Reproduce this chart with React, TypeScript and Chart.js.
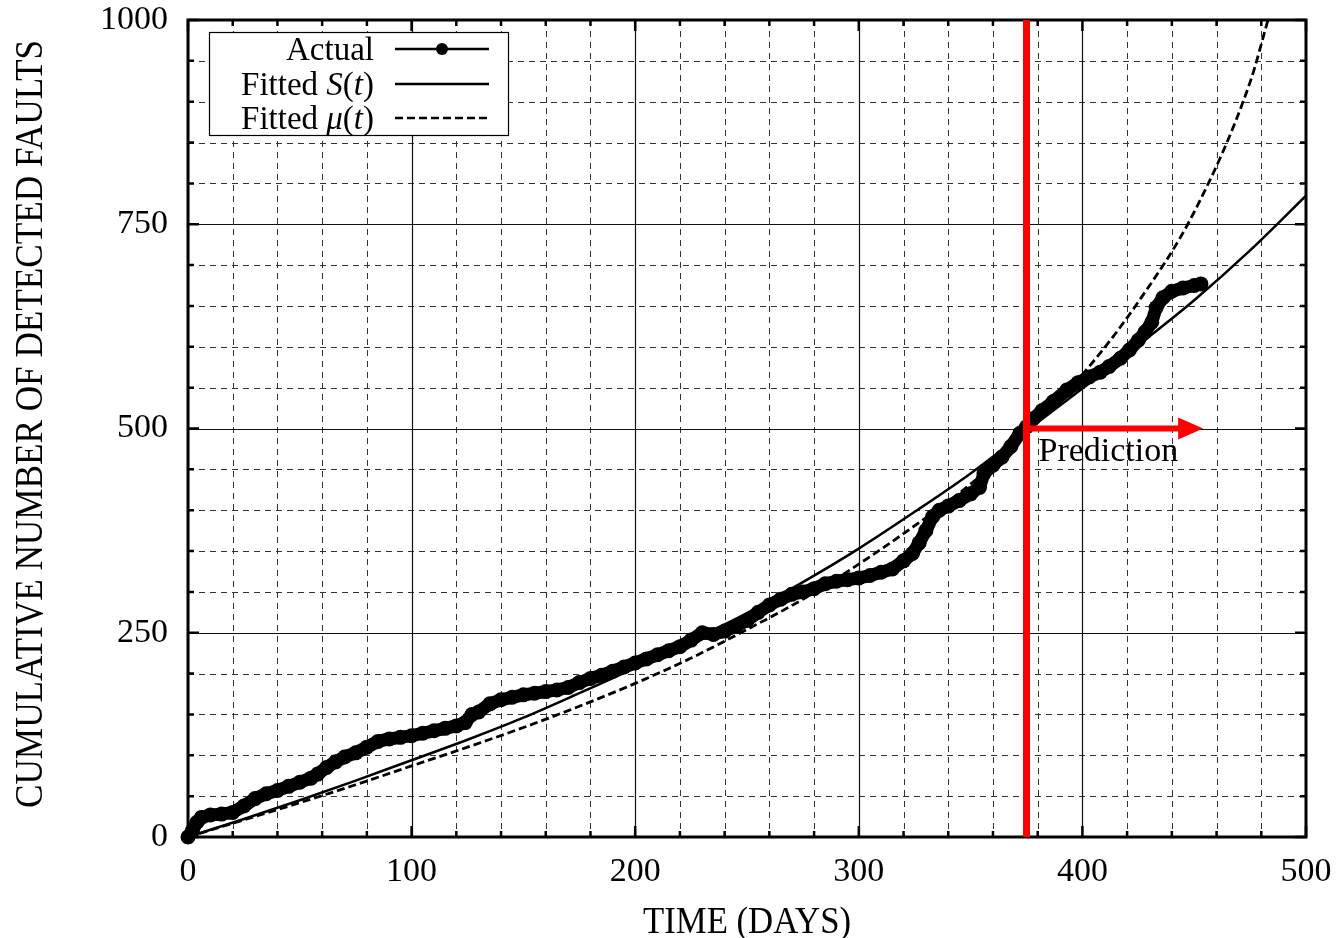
import React, { useEffect, useRef } from "react";
import { Chart, registerables } from "chart.js";

Chart.register(...registerables);

// ---------- data ----------
const actualDays = [
  0, 2, 4, 6, 10, 15, 20, 25, 30, 35, 40, 45, 50, 55, 58, 62, 66, 70, 75, 80, 85, 90, 95, 100,
  105, 110, 115, 120, 124, 127, 130, 135, 140, 145, 150, 155, 160, 165, 170, 175, 180, 185, 190,
  195, 200, 205, 210, 215, 220, 225, 230, 235, 240, 245, 250, 255, 260, 265, 270, 275, 280, 285,
  290, 295, 300, 305, 310, 315, 320, 324, 327, 330, 333, 336, 340, 345, 350, 354, 356, 360, 364,
  368, 372, 375, 378, 382, 387, 393, 398, 403, 408, 412, 417, 421, 425, 428, 431, 433, 436, 440,
  445, 450, 453,
];
const actualFaults = [
  0, 8, 18, 24, 27, 28, 30, 38, 47, 53, 57, 62, 67, 72, 77, 85, 92, 98, 103, 110, 117, 120, 122, 124,
  127, 130, 133, 136, 140, 150, 153, 163, 168, 171, 174, 176, 178, 180, 183, 189, 194, 198, 203,
  208, 213, 218, 223, 228, 233, 241, 250, 248, 252, 258, 265, 275, 284, 291, 297, 300, 304, 310,
  313, 315, 317, 320, 324, 328, 338, 347, 360, 375, 392, 400, 405, 412, 420, 428, 445, 455, 465,
  478, 494, 502, 512, 522, 533, 547, 556, 563, 569, 576, 586, 596, 608, 618, 630, 648, 660, 668,
  672, 675, 677,
];

const fitDays = [0, 25, 50, 75, 100, 125, 150, 175, 200, 225, 250, 275, 300, 325, 350, 375, 400, 425, 450, 475, 500];
const fittedS = [0, 22, 45, 69, 94, 119, 146, 176, 207, 240, 274, 312, 353, 398, 445, 497, 549, 602, 657, 718, 785];

const muDays = [0, 25, 50, 75, 100, 125, 150, 175, 200, 225, 250, 275, 300, 325, 350, 375, 400, 425, 450, 475, 483];
const fittedMu = [0, 21, 42, 64, 87, 110, 134, 160, 188, 219, 254, 291, 334, 381, 432, 495, 566, 655, 765, 924, 1000];

const xTicks = [0, 100, 200, 300, 400, 500];
const yTicks = [0, 250, 500, 750, 1000];
const xMinorStep = 20;
const yMinorStep = 50;

const PREDICTION_START = 375;
const PREDICTION_END = 454;
const PREDICTION_LEVEL = 500;

const X_TITLE = "TIME (DAYS)";
const Y_TITLE = "CUMULATIVE NUMBER OF DETECTED FAULTS";

const SERIF = '"Liberation Serif", "DejaVu Serif", serif';

// ---------- helpers ----------
function drawCondensed(
  ctx: CanvasRenderingContext2D,
  text: string,
  cx: number,
  baseline: number,
  size: number,
  targetWidth: number,
  rotate: boolean
) {
  ctx.save();
  ctx.font = `${size}px ${SERIF}`;
  ctx.fillStyle = "#000";
  const w = ctx.measureText(text).width;
  const sx = targetWidth / w;
  ctx.translate(rotate ? baseline : cx, rotate ? cx : baseline);
  if (rotate) ctx.rotate(-Math.PI / 2);
  ctx.scale(sx, 1);
  ctx.textAlign = "center";
  ctx.textBaseline = "alphabetic";
  ctx.fillText(text, 0, 0);
  ctx.restore();
}

type Part = { t: string; it?: boolean };

function drawParts(ctx: CanvasRenderingContext2D, parts: Part[], right: number, baseline: number, size: number) {
  const fontFor = (p: Part) => `${p.it ? "italic " : ""}${size}px ${SERIF}`;
  let total = 0;
  for (const p of parts) {
    ctx.font = fontFor(p);
    total += ctx.measureText(p.t).width;
  }
  let x = right - total;
  ctx.textAlign = "left";
  ctx.textBaseline = "alphabetic";
  ctx.fillStyle = "#000";
  for (const p of parts) {
    ctx.font = fontFor(p);
    ctx.fillText(p.t, x, baseline);
    x += ctx.measureText(p.t).width;
  }
}

const decorPlugin = {
  id: "decor",
  beforeDatasetsDraw(chart: any) {
    const { ctx, chartArea: a, scales } = chart;
    const x = scales.x;
    const y = scales.y;
    ctx.save();
    ctx.beginPath();
    ctx.rect(a.left, a.top, a.right - a.left, a.bottom - a.top);
    ctx.clip();
    // minor dashed grid
    ctx.setLineDash([6, 5]);
    ctx.strokeStyle = "#333";
    ctx.lineWidth = 1;
    for (let v = x.min + xMinorStep; v < x.max; v += xMinorStep) {
      if (xTicks.includes(v)) continue;
      const p = Math.round(x.getPixelForValue(v)) + 0.5;
      ctx.beginPath();
      ctx.moveTo(p, a.top);
      ctx.lineTo(p, a.bottom);
      ctx.stroke();
    }
    for (let v = y.min + yMinorStep; v < y.max; v += yMinorStep) {
      if (yTicks.includes(v)) continue;
      const p = Math.round(y.getPixelForValue(v)) + 0.5;
      ctx.beginPath();
      ctx.moveTo(a.left, p);
      ctx.lineTo(a.right, p);
      ctx.stroke();
    }
    // major solid grid
    ctx.setLineDash([]);
    ctx.strokeStyle = "#111";
    ctx.lineWidth = 1.2;
    for (const v of xTicks) {
      const p = Math.round(x.getPixelForValue(v)) + 0.5;
      ctx.beginPath();
      ctx.moveTo(p, a.top);
      ctx.lineTo(p, a.bottom);
      ctx.stroke();
    }
    for (const v of yTicks) {
      const p = Math.round(y.getPixelForValue(v)) + 0.5;
      ctx.beginPath();
      ctx.moveTo(a.left, p);
      ctx.lineTo(a.right, p);
      ctx.stroke();
    }
    ctx.restore();
  },
  afterDatasetsDraw(chart: any) {
    const { ctx, chartArea: a, scales } = chart;
    const x = scales.x;
    const y = scales.y;
    ctx.save();
    // inside tick marks
    ctx.strokeStyle = "#000";
    ctx.lineWidth = 2.5;
    for (let v = x.min; v <= x.max; v += xMinorStep) {
      const len = xTicks.includes(v) ? 11 : 6;
      const p = x.getPixelForValue(v);
      ctx.beginPath();
      ctx.moveTo(p, a.bottom);
      ctx.lineTo(p, a.bottom - len);
      ctx.moveTo(p, a.top);
      ctx.lineTo(p, a.top + len);
      ctx.stroke();
    }
    for (let v = y.min; v <= y.max; v += yMinorStep) {
      const len = yTicks.includes(v) ? 11 : 6;
      const p = y.getPixelForValue(v);
      ctx.beginPath();
      ctx.moveTo(a.left, p);
      ctx.lineTo(a.left + len, p);
      ctx.moveTo(a.right, p);
      ctx.lineTo(a.right - len, p);
      ctx.stroke();
    }
    // frame
    ctx.lineWidth = 3;
    ctx.strokeRect(a.left, a.top, a.right - a.left, a.bottom - a.top);

    // red prediction line + arrow
    const px0 = x.getPixelForValue(PREDICTION_START);
    const px1 = x.getPixelForValue(PREDICTION_END);
    const py = y.getPixelForValue(PREDICTION_LEVEL);
    ctx.strokeStyle = "#ff0000";
    ctx.fillStyle = "#ff0000";
    ctx.lineWidth = 7;
    ctx.beginPath();
    ctx.moveTo(px0, a.top);
    ctx.lineTo(px0, a.bottom);
    ctx.stroke();
    ctx.lineWidth = 6;
    ctx.beginPath();
    ctx.moveTo(px0, py);
    ctx.lineTo(px1 - 20, py);
    ctx.stroke();
    ctx.beginPath();
    ctx.moveTo(px1, py);
    ctx.lineTo(px1 - 25, py - 11);
    ctx.lineTo(px1 - 25, py + 11);
    ctx.closePath();
    ctx.fill();

    // prediction label
    ctx.fillStyle = "#000";
    ctx.font = `34px ${SERIF}`;
    ctx.textAlign = "left";
    ctx.textBaseline = "alphabetic";
    ctx.fillText("Prediction", px0 + 12, py + 32);

    // legend
    const lx = a.left + 21;
    const ly = a.top + 12;
    const lw = 299;
    const lh = 103;
    ctx.fillStyle = "#fff";
    ctx.fillRect(lx, ly, lw, lh);
    ctx.strokeStyle = "#000";
    ctx.lineWidth = 1.2;
    ctx.strokeRect(lx + 0.5, ly + 0.5, lw, lh);

    const textRight = lx + 165;
    const sx0 = lx + 186;
    const sx1 = lx + 280;
    const rows = [ly + 17, ly + 52, ly + 86];
    const sz = 33;
    drawParts(ctx, [{ t: "Actual" }], textRight, rows[0] + 11, sz);
    drawParts(ctx, [{ t: "Fitted " }, { t: "S", it: true }, { t: "(" }, { t: "t", it: true }, { t: ")" }], textRight, rows[1] + 11, sz);
    drawParts(ctx, [{ t: "Fitted " }, { t: "\u03bc", it: true }, { t: "(" }, { t: "t", it: true }, { t: ")" }], textRight, rows[2] + 11, sz);

    ctx.strokeStyle = "#000";
    ctx.lineWidth = 2.5;
    ctx.setLineDash([]);
    ctx.beginPath();
    ctx.moveTo(sx0, rows[0]);
    ctx.lineTo(sx1, rows[0]);
    ctx.moveTo(sx0, rows[1]);
    ctx.lineTo(sx1, rows[1]);
    ctx.stroke();
    ctx.fillStyle = "#000";
    ctx.beginPath();
    ctx.arc((sx0 + sx1) / 2, rows[0], 6, 0, Math.PI * 2);
    ctx.fill();
    ctx.setLineDash([8, 4]);
    ctx.beginPath();
    ctx.moveTo(sx0, rows[2]);
    ctx.lineTo(sx1, rows[2]);
    ctx.stroke();
    ctx.restore();
  },
  afterDraw(chart: any) {
    const { ctx, chartArea: a } = chart;
    const cx = (a.left + a.right) / 2;
    drawCondensed(ctx, X_TITLE, cx, 933, 38, 208, false);
    drawCondensed(ctx, Y_TITLE, 424, 42, 40, 768, true);
  },
};

export default function App() {
  const canvasRef = useRef<HTMLCanvasElement | null>(null);

  useEffect(() => {
    document.body.style.margin = "0";
    const canvas = canvasRef.current;
    if (!canvas) return;
    const tickFont = { family: SERIF, size: 34 };
    const chart = new Chart(canvas, {
      type: "line",
      data: {
        datasets: [
          {
            label: "Actual",
            data: actualDays.map((d, i) => ({ x: d, y: actualFaults[i] })),
            borderColor: "#000",
            backgroundColor: "#000",
            borderWidth: 13,
            pointRadius: 7.5,
            pointBorderWidth: 0,
            pointBackgroundColor: "#000",
            borderJoinStyle: "round",
            borderCapStyle: "round",
            clip: false,
            order: 0,
          } as any,
          {
            label: "Fitted S(t)",
            data: fitDays.map((d, i) => ({ x: d, y: fittedS[i] })),
            borderColor: "#000",
            borderWidth: 2.5,
            pointRadius: 0,
            cubicInterpolationMode: "monotone",
            order: 1,
          } as any,
          {
            label: "Fitted \u03bc(t)",
            data: muDays.map((d, i) => ({ x: d, y: fittedMu[i] })),
            borderColor: "#000",
            borderWidth: 2.8,
            borderDash: [8, 4],
            pointRadius: 0,
            cubicInterpolationMode: "monotone",
            order: 2,
          } as any,
        ],
      },
      options: {
        animation: false,
        responsive: false,
        layout: { padding: 0 },
        plugins: { legend: { display: false }, tooltip: { enabled: false } },
        scales: {
          x: {
            type: "linear",
            min: 0,
            max: 500,
            afterFit: (s: any) => {
              s.height = 101;
              s.paddingLeft = 0;
              s.paddingRight = 32;
            },
            afterBuildTicks: (s: any) => {
              s.ticks = xTicks.map((v) => ({ value: v }));
            },
            grid: { display: false, drawTicks: false },
            border: { display: false },
            ticks: {
              padding: 15,
              color: "#000",
              font: tickFont,
              maxRotation: 0,
              autoSkip: false,
              callback: (v: any) => String(v),
            },
          },
          y: {
            type: "linear",
            min: 0,
            max: 1000,
            afterFit: (s: any) => {
              s.width = 188;
              s.paddingTop = 20;
              s.paddingBottom = 0;
            },
            afterBuildTicks: (s: any) => {
              s.ticks = yTicks.map((v) => ({ value: v }));
            },
            grid: { display: false, drawTicks: false },
            border: { display: false },
            ticks: {
              padding: 20,
              color: "#000",
              font: tickFont,
              autoSkip: false,
              callback: (v: any) => String(v),
            },
          },
        },
      } as any,
      plugins: [decorPlugin],
    });
    return () => chart.destroy();
  }, []);

  return (
    <div style={{ width: 1338, height: 938, background: "#fff" }}>
      <canvas ref={canvasRef} width={1338} height={938} style={{ display: "block" }} />
    </div>
  );
}
